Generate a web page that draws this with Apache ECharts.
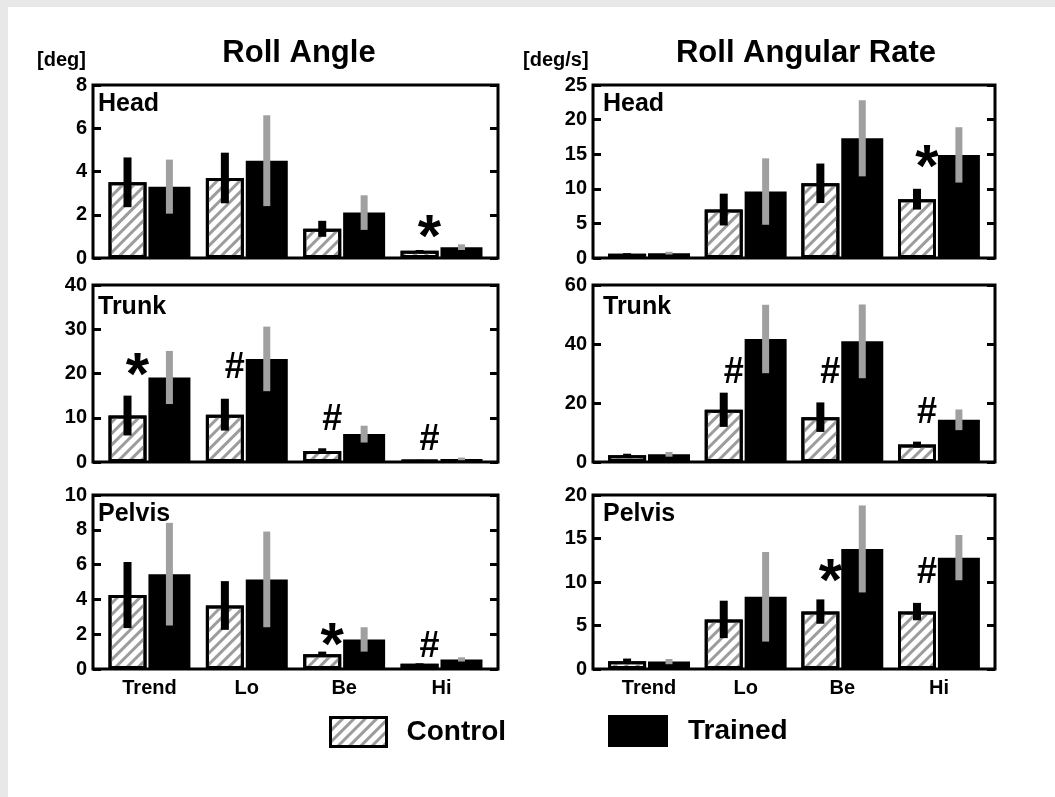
<!DOCTYPE html>
<html>
<head>
<meta charset="utf-8">
<script src="https://cdn.jsdelivr.net/npm/echarts@6/dist/echarts.min.js"></script>
<style>
  html, body { margin: 0; padding: 0; background: #fff; }
  #chart {
    position: absolute; left: 0; top: 0; width: 1055px; height: 797px;
    background:
      linear-gradient(#e8e8e8, #e8e8e8) 0 0 / 100% 7px no-repeat,
      linear-gradient(#e8e8e8, #e8e8e8) 0 0 / 8px 100% no-repeat,
      #fff;
  }
</style>
</head>
<body>
<div id="chart"></div>
<script>
// ---- data -------------------------------------------------------------
const categories = ['Trend', 'Lo', 'Be', 'Hi'];
const segments = ['Head', 'Trunk', 'Pelvis'];

// y-axis scales per segment
const angleMax = [8, 40, 10];
const angleStep = [2, 10, 2];
const rateMax = [25, 60, 20];
const rateStep = [5, 20, 5];

// Roll angle [deg]: means and SDs
const angleHeadControl = [3.5, 3.7, 1.35, 0.33];
const angleHeadControlSD = [1.15, 1.17, 0.37, 0.04];
const angleHeadTrained = [3.3, 4.5, 2.1, 0.5];
const angleHeadTrainedSD = [1.25, 2.1, 0.8, 0.13];

const angleTrunkControl = [10.5, 10.7, 2.5, 0.4];
const angleTrunkControlSD = [4.5, 3.6, 0.6, 0.1];
const angleTrunkTrained = [19.1, 23.3, 6.3, 0.7];
const angleTrunkTrainedSD = [6.0, 7.3, 1.9, 0.3];

const anglePelvisControl = [4.25, 3.65, 0.85, 0.3];
const anglePelvisControlSD = [1.9, 1.4, 0.15, 0.03];
const anglePelvisTrained = [5.45, 5.15, 1.7, 0.55];
const anglePelvisTrainedSD = [2.95, 2.75, 0.7, 0.12];

// Roll angular rate [deg/s]: means and SDs
const rateHeadControl = [0.6, 7.0, 10.8, 8.5];
const rateHeadControlSD = [0.1, 2.3, 2.85, 1.5];
const rateHeadTrained = [0.7, 9.6, 17.3, 14.9];
const rateHeadTrainedSD = [0.2, 4.8, 5.5, 4.0];

const rateTrunkControl = [2.3, 17.7, 15.2, 5.9];
const rateTrunkControlSD = [0.5, 5.8, 5.0, 1.0];
const rateTrunkTrained = [2.6, 41.7, 40.9, 14.3];
const rateTrunkTrainedSD = [0.8, 11.6, 12.5, 3.5];

const ratePelvisControl = [0.9, 5.7, 6.6, 6.6];
const ratePelvisControlSD = [0.3, 2.15, 1.4, 1.0];
const ratePelvisTrained = [0.85, 8.3, 13.8, 12.8];
const ratePelvisTrainedSD = [0.3, 5.15, 5.0, 2.6];

// significance marks: [category index, level, symbol]
const angleHeadMarks = [[3, 1.39, '*']];
const angleTrunkMarks = [[0, 21.9, '*'], [1, 21.2, '#'], [2, 9.5, '#'], [3, 5.0, '#']];
const anglePelvisMarks = [[2, 1.95, '*'], [3, 1.28, '#']];
const rateHeadMarks = [[3, 14.6, '*']];
const rateTrunkMarks = [[1, 30.1, '#'], [2, 30.2, '#'], [3, 16.5, '#']];
const ratePelvisMarks = [[2, 11.2, '*'], [3, 11.0, '#']];

// ---- layout -----------------------------------------------------------
const FONT = '"Liberation Sans", Arial, Helvetica, sans-serif';
const colLeft = [93, 593];
const colWidth = [405, 402];
const rowTop = [85, 285, 495];
const rowHeight = [173, 177, 174];
const labelMid = [103, 306, 513];

const wControl = 38, wTrained = 42, gapPct = 0.05;
const groupWidth = wControl * (1 + gapPct) + wTrained;
const offControl = -groupWidth / 2 + wControl / 2;
const offTrained = -groupWidth / 2 + wControl * (1 + gapPct) + wTrained / 2;
const markOffset = -12;

const hatch = {
  symbol: 'rect',
  symbolSize: 1,
  color: '#9c9c9c',
  dashArrayX: [1, 0],
  dashArrayY: [3, 5],
  rotation: -Math.PI / 4
};

const panels = [
  { col: 0, row: 0, max: angleMax[0], step: angleStep[0], c: angleHeadControl, cs: angleHeadControlSD, t: angleHeadTrained, ts: angleHeadTrainedSD, marks: angleHeadMarks },
  { col: 0, row: 1, max: angleMax[1], step: angleStep[1], c: angleTrunkControl, cs: angleTrunkControlSD, t: angleTrunkTrained, ts: angleTrunkTrainedSD, marks: angleTrunkMarks },
  { col: 0, row: 2, max: angleMax[2], step: angleStep[2], c: anglePelvisControl, cs: anglePelvisControlSD, t: anglePelvisTrained, ts: anglePelvisTrainedSD, marks: anglePelvisMarks },
  { col: 1, row: 0, max: rateMax[0], step: rateStep[0], c: rateHeadControl, cs: rateHeadControlSD, t: rateHeadTrained, ts: rateHeadTrainedSD, marks: rateHeadMarks },
  { col: 1, row: 1, max: rateMax[1], step: rateStep[1], c: rateTrunkControl, cs: rateTrunkControlSD, t: rateTrunkTrained, ts: rateTrunkTrainedSD, marks: rateTrunkMarks },
  { col: 1, row: 2, max: rateMax[2], step: rateStep[2], c: ratePelvisControl, cs: ratePelvisControlSD, t: ratePelvisTrained, ts: ratePelvisTrainedSD, marks: ratePelvisMarks }
];

const grid = [], xAxis = [], yAxis = [], series = [], graphic = [];

function errorBars(offset, width, color) {
  return function (params, api) {
    const x = api.value(0), m = api.value(1), s = api.value(2);
    const top = api.coord([x, m + s]);
    const bot = api.coord([x, Math.max(m - s, 0)]);
    return {
      type: 'rect',
      shape: { x: top[0] + offset - width / 2, y: top[1], width: width, height: bot[1] - top[1] },
      style: { fill: color }
    };
  };
}

panels.forEach(function (p, i) {
  grid.push({
    left: colLeft[p.col], top: rowTop[p.row], width: colWidth[p.col], height: rowHeight[p.row],
    show: true, borderColor: '#000', borderWidth: 3, backgroundColor: 'transparent',
    outerBoundsMode: 'none'
  });
  xAxis.push({
    gridIndex: i, type: 'value', min: -0.58, max: 3.58,
    axisLine: { show: false, onZero: false }, axisTick: { show: false }, splitLine: { show: false },
    axisLabel: p.row === 2 ? {
      show: true, customValues: [0, 1, 2, 3],
      formatter: function (v) { return categories[Math.round(v)]; },
      fontSize: 20, fontWeight: 'bold', fontFamily: FONT, color: '#000', margin: 9
    } : { show: false }
  });
  const tick = { show: true, inside: true, length: 8, lineStyle: { width: 3, color: '#000' } };
  yAxis.push({
    gridIndex: i, type: 'value', min: 0, max: p.max, interval: p.step, position: 'left',
    axisLine: { show: false, onZero: false }, axisTick: tick, splitLine: { show: false },
    axisLabel: { fontSize: 20, fontWeight: 'bold', fontFamily: FONT, color: '#000', margin: 6 }
  });
  yAxis.push({
    gridIndex: i, type: 'value', min: 0, max: p.max, interval: p.step, position: 'right',
    axisLine: { show: false, onZero: false }, axisTick: tick, splitLine: { show: false },
    axisLabel: { show: false }
  });

  series.push({
    type: 'bar', name: 'Control', xAxisIndex: i, yAxisIndex: 2 * i,
    data: p.c.map(function (v, k) { return [k, v]; }),
    barWidth: wControl, barGap: (gapPct * 100) + '%',
    itemStyle: { color: '#fff', borderColor: '#000', borderWidth: 3, decal: hatch },
    emphasis: { disabled: true }, silent: true, z: 2
  });
  series.push({
    type: 'bar', name: 'Trained', xAxisIndex: i, yAxisIndex: 2 * i,
    data: p.t.map(function (v, k) { return [k, v]; }),
    barWidth: wTrained, barGap: (gapPct * 100) + '%',
    itemStyle: { color: '#000' },
    emphasis: { disabled: true }, silent: true, z: 2
  });
  series.push({
    type: 'custom', name: 'Control SD', xAxisIndex: i, yAxisIndex: 2 * i,
    data: p.c.map(function (v, k) { return [k, v, p.cs[k]]; }),
    renderItem: errorBars(offControl, 8, '#000'), silent: true, z: 4
  });
  series.push({
    type: 'custom', name: 'Trained SD', xAxisIndex: i, yAxisIndex: 2 * i,
    data: p.t.map(function (v, k) { return [k, v, p.ts[k]]; }),
    renderItem: errorBars(offTrained, 7, '#a0a0a0'), silent: true, z: 4
  });
  series.push({
    type: 'custom', name: 'Significance', xAxisIndex: i, yAxisIndex: 2 * i,
    data: p.marks.map(function (m) { return [m[0], m[1]]; }),
    renderItem: function (params, api) {
      const pt = api.coord([api.value(0), api.value(1)]);
      const sym = p.marks[params.dataIndex][2];
      const star = sym === '*';
      return {
        type: 'text', x: pt[0] + markOffset, y: pt[1] + (star ? 12 : 0),
        style: {
          text: sym, fill: '#000', align: 'center', verticalAlign: 'middle',
          font: 'bold ' + (star ? 60 : 36) + 'px ' + FONT
        }
      };
    },
    silent: true, clip: false, z: 5
  });

  graphic.push({
    type: 'text', left: colLeft[p.col] + (p.col === 0 ? 5 : 10),
    top: labelMid[p.row] - 11,
    style: { text: segments[p.row], fill: '#000', font: 'bold 25px ' + FONT }
  });
});

graphic.push(
  { type: 'text', x: 299, y: 53, style: { text: 'Roll Angle', fill: '#000', font: 'bold 31px ' + FONT, align: 'center', verticalAlign: 'middle' } },
  { type: 'text', x: 806, y: 53, style: { text: 'Roll Angular Rate', fill: '#000', font: 'bold 31px ' + FONT, align: 'center', verticalAlign: 'middle' } },
  { type: 'text', x: 37, y: 60, style: { text: '[deg]', fill: '#000', font: 'bold 20px ' + FONT, align: 'left', verticalAlign: 'middle' } },
  { type: 'text', x: 523, y: 60, style: { text: '[deg/s]', fill: '#000', font: 'bold 20px ' + FONT, align: 'left', verticalAlign: 'middle' } }
);

const legendText = { fontSize: 28, fontWeight: 'bold', fontFamily: FONT, color: '#000', padding: [0, 0, 0, 15] };

const chart = echarts.init(document.getElementById('chart'), null, { renderer: 'canvas' });
chart.setOption({
  animation: false,
  backgroundColor: 'transparent',
  grid: grid,
  xAxis: xAxis,
  yAxis: yAxis,
  series: series,
  graphic: graphic,
  legend: [
    {
      data: [{ name: 'Control', icon: 'rect' }], left: 324, top: 711, itemWidth: 56, itemHeight: 29,
      selectedMode: false, textStyle: legendText,
      itemStyle: { borderWidth: 3, borderColor: '#000' }
    },
    {
      data: [{ name: 'Trained', icon: 'rect' }], left: 603, top: 710, itemWidth: 60, itemHeight: 32,
      selectedMode: false, textStyle: legendText,
      itemStyle: { borderWidth: 0 }
    }
  ]
});
</script>
</body>
</html>
